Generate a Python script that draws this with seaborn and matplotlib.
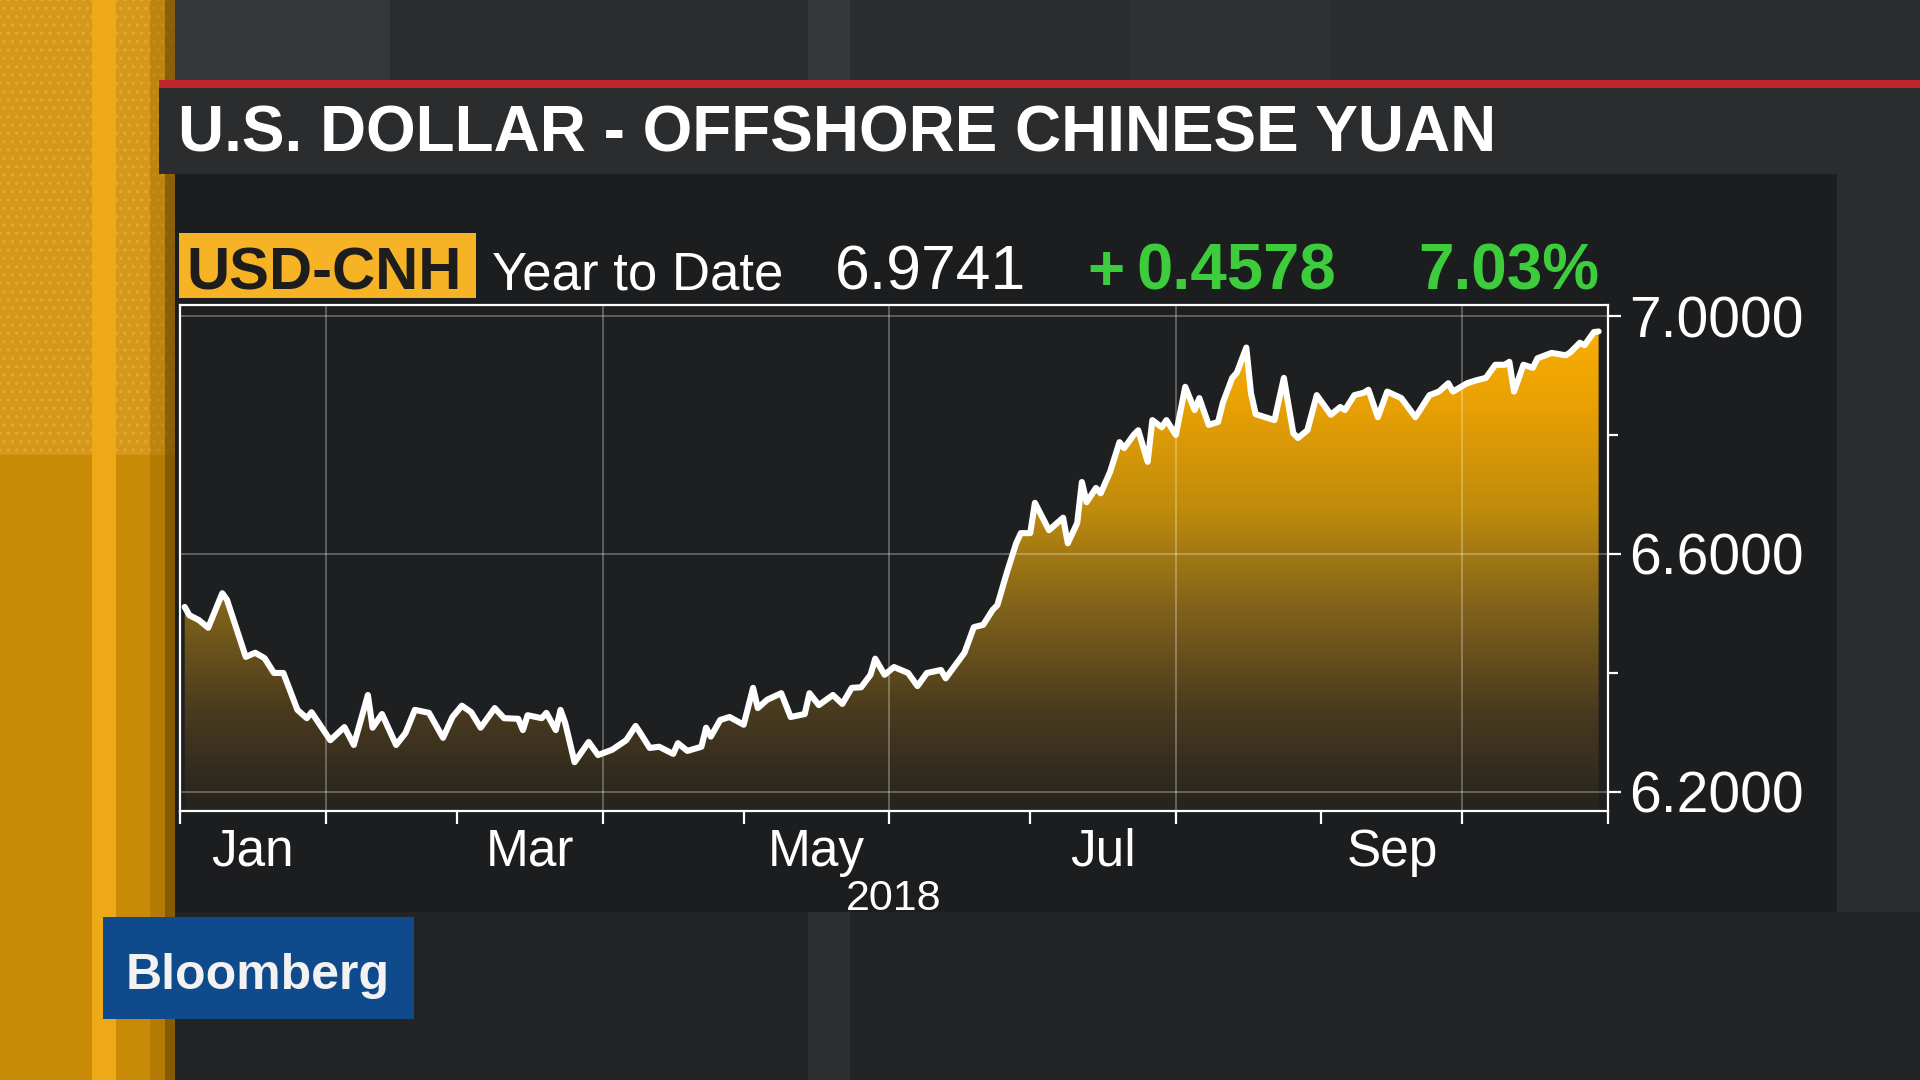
import numpy as np
import pandas as pd
import seaborn as sns
import matplotlib.pyplot as plt
import matplotlib.dates as mdates
from matplotlib.colors import LinearSegmentedColormap
from matplotlib.patches import Rectangle
from matplotlib.ticker import FixedLocator, FixedFormatter, NullFormatter

# USD-CNH, year to date 2018
dates = [
    "2018-01-02", "2018-01-03", "2018-01-05", "2018-01-07", "2018-01-10", "2018-01-11", "2018-01-15",
    "2018-01-17", "2018-01-19", "2018-01-21", "2018-01-23", "2018-01-26", "2018-01-28", "2018-01-29",
    "2018-02-02", "2018-02-05", "2018-02-07", "2018-02-10", "2018-02-11", "2018-02-13", "2018-02-16",
    "2018-02-18", "2018-02-20", "2018-02-23", "2018-02-26", "2018-02-28",
    "2018-03-02", "2018-03-04", "2018-03-06", "2018-03-09", "2018-03-11", "2018-03-14", "2018-03-15",
    "2018-03-16", "2018-03-19", "2018-03-20", "2018-03-22", "2018-03-23", "2018-03-24", "2018-03-26",
    "2018-03-29", "2018-03-31",
    "2018-04-03", "2018-04-06", "2018-04-08", "2018-04-09", "2018-04-11", "2018-04-13", "2018-04-16",
    "2018-04-17", "2018-04-19", "2018-04-22", "2018-04-23", "2018-04-24", "2018-04-26", "2018-04-28",
    "2018-05-01", "2018-05-03", "2018-05-04", "2018-05-06", "2018-05-09", "2018-05-11", "2018-05-14",
    "2018-05-15", "2018-05-17", "2018-05-20", "2018-05-22", "2018-05-24", "2018-05-26", "2018-05-28",
    "2018-05-29", "2018-05-31",
    "2018-06-02", "2018-06-05", "2018-06-07", "2018-06-09", "2018-06-12", "2018-06-13", "2018-06-17",
    "2018-06-19", "2018-06-21", "2018-06-23", "2018-06-24", "2018-06-26", "2018-06-28", "2018-06-29",
    "2018-07-01", "2018-07-02", "2018-07-05", "2018-07-08", "2018-07-09", "2018-07-11", "2018-07-12",
    "2018-07-13", "2018-07-15", "2018-07-16", "2018-07-18", "2018-07-20", "2018-07-21", "2018-07-23",
    "2018-07-24", "2018-07-26", "2018-07-27", "2018-07-29", "2018-07-30",
    "2018-08-01", "2018-08-03", "2018-08-05", "2018-08-06", "2018-08-08", "2018-08-10", "2018-08-11",
    "2018-08-13", "2018-08-14", "2018-08-16", "2018-08-17", "2018-08-18", "2018-08-20", "2018-08-22",
    "2018-08-24", "2018-08-26", "2018-08-27", "2018-08-29", "2018-08-31",
    "2018-09-03", "2018-09-05", "2018-09-06", "2018-09-08", "2018-09-10", "2018-09-11", "2018-09-13",
    "2018-09-15", "2018-09-18", "2018-09-21", "2018-09-24", "2018-09-26", "2018-09-28", "2018-09-29",
    "2018-10-02", "2018-10-04", "2018-10-06", "2018-10-08", "2018-10-10", "2018-10-11", "2018-10-12",
    "2018-10-14", "2018-10-16", "2018-10-17", "2018-10-20", "2018-10-23", "2018-10-24", "2018-10-26",
    "2018-10-27", "2018-10-29", "2018-10-30",
]
rates = [
    6.511, 6.497, 6.489, 6.476, 6.534, 6.523, 6.427, 6.434, 6.425, 6.400, 6.400, 6.338, 6.324, 6.334,
    6.287, 6.309, 6.279, 6.363, 6.308, 6.331, 6.279, 6.299, 6.338, 6.333, 6.291, 6.326,
    6.345, 6.334, 6.308, 6.341, 6.324, 6.323, 6.304, 6.329, 6.324, 6.333, 6.304, 6.338, 6.316, 6.250,
    6.284, 6.262,
    6.271, 6.287, 6.311, 6.299, 6.274, 6.276, 6.264, 6.282, 6.269, 6.276, 6.308, 6.293, 6.321, 6.326,
    6.313, 6.375, 6.341, 6.355, 6.366, 6.326, 6.331, 6.366, 6.346, 6.363, 6.348, 6.375, 6.376, 6.397,
    6.424, 6.397,
    6.410, 6.400, 6.378, 6.400, 6.405, 6.391, 6.434, 6.477, 6.481, 6.506, 6.514, 6.568, 6.618, 6.635,
    6.635, 6.686, 6.640, 6.661, 6.618, 6.652, 6.721, 6.687, 6.711, 6.702, 6.738, 6.788, 6.778, 6.800,
    6.808, 6.755, 6.825, 6.813, 6.825,
    6.800, 6.881, 6.842, 6.862, 6.817, 6.822, 6.854, 6.896, 6.905, 6.947, 6.870, 6.835, 6.830, 6.825,
    6.896, 6.803, 6.795, 6.808, 6.867,
    6.834, 6.847, 6.842, 6.867, 6.871, 6.876, 6.830, 6.873, 6.862, 6.830, 6.867, 6.873, 6.887, 6.873,
    6.887, 6.892, 6.896, 6.918, 6.918, 6.923, 6.873, 6.918, 6.913, 6.929, 6.938, 6.934, 6.939, 6.955,
    6.951, 6.973, 6.974,
]

x_start, x_end = "2018-01-01", "2018-11-01"
y_low, y_high = 6.168, 7.0185
y_major = [6.2, 6.6, 7.0]
y_minor = [6.4, 6.8]
month_labels = ["Jan", "Mar", "May", "Jul", "Sep"]
label_months = ["2018-01-01", "2018-03-01", "2018-05-01", "2018-07-01", "2018-09-01"]
grid_dates = ["2018-02-01", "2018-04-01", "2018-06-01", "2018-08-01", "2018-10-01"]

title = "U.S. DOLLAR - OFFSHORE CHINESE YUAN"
ticker = "USD-CNH"
period = "Year to Date"
last_value = "6.9741"
change = "+0.4578"
change_pct = "7.03%"
year_label = "2018"
brand = "Bloomberg"

GOLD = "#f5b325"
GREEN = "#3ccc3c"
PANEL = "#1c1d1f"

sns.set_theme(style="dark")
plt.rcParams["font.family"] = ["Liberation Sans", "DejaVu Sans"]
plt.rcParams["hatch.linewidth"] = 1.2

df = pd.DataFrame({"date": pd.to_datetime(dates), "rate": rates})

fig = plt.figure(figsize=(19.2, 10.8), dpi=100, facecolor=PANEL)

# studio backdrop, drawn in pixel coordinates
bg = fig.add_axes([0, 0, 1, 1])
bg.set_xlim(0, 1920)
bg.set_ylim(1080, 0)
bg.axis("off")


def block(x, y, w, h, color, **kw):
    bg.add_patch(Rectangle((x, y), w, h, facecolor=color, edgecolor="none", lw=0, **kw))


# orange wall on the left
block(0, 0, 175, 1080, "#c98a07")
bg.add_patch(Rectangle((0, 0), 175, 455, facecolor="#d69819", edgecolor="#e4a838",
                       hatch="..", lw=0))
block(92, 0, 24, 1080, "#eea918")
block(150, 0, 25, 1080, "#9a6604", alpha=0.4)
block(165, 0, 10, 1080, "#5a3c02", alpha=0.5)

# top strip
block(175, 0, 1745, 81, "#2a2c2e")
block(175, 0, 215, 81, "#353638")
block(808, 0, 42, 81, "#363739")
block(1130, 0, 200, 81, "#2e3032")

# red rule + title bar
block(159, 80, 1761, 8, "#c0262c")
block(159, 88, 1761, 86, "#2b2c2e")

# chart panel, right margin and floor
block(175, 174, 1662, 738, PANEL)
block(1837, 174, 83, 738, "#2a2c2e")
block(175, 912, 1745, 168, "#222426")
block(808, 912, 42, 168, "#2d2e30")

bg.text(178, 152, title, color="white", fontsize=46, fontweight="bold", va="baseline")

# header row
block(179, 233, 297, 65, GOLD)
bg.text(186, 289, ticker, color="#1d1d1d", fontsize=43, fontweight="bold", va="baseline")
bg.text(492, 290, period, color="white", fontsize=38, va="baseline")
bg.text(835, 290, last_value, color="white", fontsize=45, va="baseline")
bg.text(1087, 290, change[0], color=GREEN, fontsize=46, fontweight="bold", va="baseline")
bg.text(1136, 290, change[1:], color=GREEN, fontsize=47, fontweight="bold", va="baseline")
bg.text(1418, 290, change_pct, color=GREEN, fontsize=46, fontweight="bold", va="baseline")

# logo
block(103, 917, 311, 102, "#0f4b8c")
bg.text(258, 989, brand, color="#f2f2f2", fontsize=36, fontweight="bold",
        ha="center", va="baseline")

# ---- chart ----
ax = fig.add_axes([180 / 1920, 1 - 811 / 1080, 1428 / 1920, 506 / 1080])
ax.set_facecolor("#1e1f21")

sns.lineplot(data=df, x="date", y="rate", ax=ax, color="white", linewidth=4.4,
             estimator=None, zorder=4)

xlo, xhi = pd.Timestamp(x_start), pd.Timestamp(x_end)

# gold gradient under the line
fill = ax.fill_between(df["date"], df["rate"], y_low, facecolor="none", edgecolor="none")
cmap = LinearSegmentedColormap.from_list(
    "cnh", ["#25231f", "#4a3b1e", "#80621a", "#c08c0c", "#e8a004", "#ffb300"])
grad = np.linspace(0, 1, 256).reshape(-1, 1)
im = ax.imshow(grad, extent=[mdates.date2num(xlo), mdates.date2num(xhi), y_low, y_high],
               origin="lower", aspect="auto", cmap=cmap, zorder=1)
im.set_clip_path(fill.get_paths()[0], transform=ax.transData)

ax.grid(False)
for v in y_major:
    ax.axhline(v, color="white", alpha=0.3, lw=1.3, zorder=2)
for d in grid_dates:
    ax.axvline(pd.Timestamp(d), color="white", alpha=0.3, lw=1.3, zorder=2)

ax.set_xlim(xlo, xhi)
ax.set_ylim(y_low, y_high)

# y axis on the right
ax.yaxis.tick_right()
ax.set_yticks(y_major)
ax.set_yticks(y_minor, minor=True)
ax.set_yticklabels([f"{v:.4f}" for v in y_major])
ax.tick_params(axis="y", which="major", right=True, left=False, direction="out", length=9,
               width=1.6, colors="white", labelsize=41, pad=6)
ax.tick_params(axis="y", which="minor", right=True, left=False, direction="out", length=7,
               width=1.6, color="white")

# x axis: ticks at month starts, labels mid-month
ax.xaxis.set_major_locator(mdates.MonthLocator())
ax.xaxis.set_major_formatter(NullFormatter())
mids = []
for m in label_months:
    start = pd.Timestamp(m)
    mids.append(start + (start + pd.offsets.MonthBegin(1) - start) / 2)
ax.xaxis.set_minor_locator(FixedLocator(mdates.date2num(mids)))
ax.xaxis.set_minor_formatter(FixedFormatter(month_labels))
ax.tick_params(axis="x", which="major", bottom=True, direction="out", length=9, width=1.6,
               color="white")
ax.tick_params(axis="x", which="minor", bottom=True, length=0, pad=12, labelsize=37,
               labelcolor="white")

ax.set_xlabel(year_label, color="white", fontsize=31, labelpad=2)
ax.set_ylabel("")

for s in ax.spines.values():
    s.set_visible(True)
    s.set_color("white")
    s.set_linewidth(1.6)

fig.savefig("out.png", dpi=100, facecolor=fig.get_facecolor())
